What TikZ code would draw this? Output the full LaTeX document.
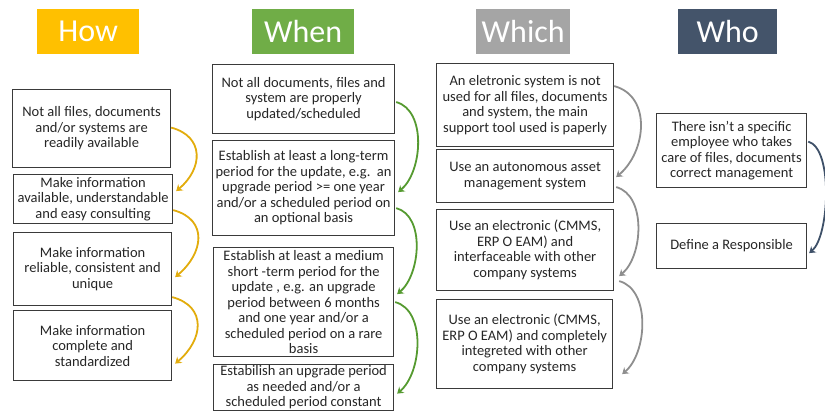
\documentclass[tikz,border=0pt]{standalone}
\usepackage{fontspec}
\setmainfont{Carlito}
\usetikzlibrary{arrows.meta}
\definecolor{howc}{HTML}{FFC000}
\definecolor{whenc}{HTML}{70AD47}
\definecolor{whichc}{HTML}{A5A5A5}
\definecolor{whoc}{HTML}{44546A}
\definecolor{howarr}{HTML}{E2AC0C}
\definecolor{whenarr}{HTML}{559A30}
\definecolor{whicharr}{HTML}{8E8E8E}
\definecolor{whoarr}{HTML}{3E5068}
\definecolor{boxline}{HTML}{3A3A3A}
\definecolor{txt}{HTML}{262626}
\begin{document}
\begin{tikzpicture}[x=1pt,y=1pt,
  box/.style={draw=boxline, line width=1.2pt, inner sep=0pt, align=center, anchor=north west, text=txt, font=\fontsize{14.5}{15.5}\selectfont},
  head/.style={fill=#1, inner sep=0pt, anchor=north west, text=white, font=\fontsize{32}{36}\selectfont, minimum height=45},
  conn/.style={draw=#1, line width=1.8pt, -{Stealth[length=6pt,width=8pt]}, out=-15, in=40, looseness=0.9}
]
\useasboundingbox (0,0) rectangle (825,-412);
% headers
\node[head=howc, minimum width=102] (hh) at (37,-9) {How};
\node[head=whenc, minimum width=102] (wh) at (252,-9) {When};
\node[head=whichc, minimum width=94] (kh) at (476,-9) {Which};
\node[head=whoc, minimum width=99] (oh) at (678,-9) {Who};
% How
\node[box, minimum width=158, minimum height=78] (h1) at (12,-89) {Not all files, documents\\and/or systems are\\readily available};
\node[box, minimum width=159, minimum height=49] (h2) at (13,-174) {Make information\\available, understandable\\and easy consulting};
\node[box, minimum width=158, minimum height=73] (h3) at (13,-232) {Make information\\reliable, consistent and\\unique};
\node[box, minimum width=158, minimum height=70] (h4) at (13,-310) {Make information\\complete and\\standardized};
% When
\node[box, minimum width=182, minimum height=69] (w1) at (212,-64) {Not all documents, files and\\system are properly\\updated/scheduled};
\node[box, minimum width=182, minimum height=95] (w2) at (212,-140) {Establish at least a long-term\\period for the update, e.g.~~an\\upgrade period >= one year\\and/or a scheduled period on\\an optional basis};
\node[box, minimum width=180, minimum height=109] (w3) at (213,-247) {Establish at least a medium\\short -term period for the\\update , e.g. an upgrade\\period between 6 months\\and one year and/or a\\scheduled period on a rare\\basis};
\node[box, minimum width=180, minimum height=46] (w4) at (213,-364) {Estabilish an upgrade period\\as needed and/or a\\scheduled period constant};
% Which
\node[box, minimum width=177, minimum height=83] (k1) at (436,-63) {An eletronic system is not\\used for all files, documents\\and system, the main\\support tool used is paperly};
\node[box, minimum width=177, minimum height=53] (k2) at (436,-149) {Use an autonomous asset\\management system};
\node[box, minimum width=177, minimum height=81] (k3) at (436,-209) {Use an electronic (CMMS,\\ERP O EAM) and\\interfaceable with other\\company systems};
\node[box, minimum width=176, minimum height=89] (k4) at (436,-299) {Use an electronic (CMMS,\\ERP O EAM) and completely\\integreted with other\\company systems};
% Who
\node[box, minimum width=150, minimum height=74] (o1) at (656,-113) {There isn't a specific\\employee who takes\\care of files, documents\\correct management};
\node[box, minimum width=150, minimum height=45] (o2) at (656,-223) {Define a Responsible};
% arrows
\draw[conn=howarr, looseness=1.4] ([yshift=1pt]h1.east) to ([xshift=3pt,yshift=8pt]h2.east);
\draw[conn=howarr, looseness=1.4] ([yshift=-11pt]h2.east) to ([xshift=3pt,yshift=-8pt]h3.east);
\draw[conn=howarr, looseness=1.4] ([yshift=-28pt]h3.east) to ([xshift=3pt,yshift=-18pt]h4.east);
\draw[conn=whenarr] ([xshift=1pt,yshift=-3pt]w1.east) to ([xshift=3pt,yshift=-4pt]w2.east);
\draw[conn=whenarr] ([xshift=1pt,yshift=-20pt]w2.east) to ([xshift=3pt,yshift=8pt]w3.east);
\draw[conn=whenarr] ([xshift=1pt,yshift=0pt]w3.east) to ([xshift=3pt,yshift=-6pt]w4.east);
\draw[conn=whicharr, looseness=1.1] ([yshift=19pt]k1.east) to ([xshift=2pt,yshift=-1pt]k2.east);
\draw[conn=whicharr] ([xshift=2pt,yshift=-11pt]k2.east) to ([xshift=5pt,yshift=-26pt]k3.east);
\draw[conn=whicharr] ([xshift=5pt,yshift=-31pt]k3.east) to ([xshift=9pt,yshift=-30pt]k4.east);
\draw[conn=whoarr, looseness=0.6] ([xshift=1pt,yshift=9pt]o1.east) to ([xshift=2pt,yshift=-7pt]o2.east);
\end{tikzpicture}
\end{document}
